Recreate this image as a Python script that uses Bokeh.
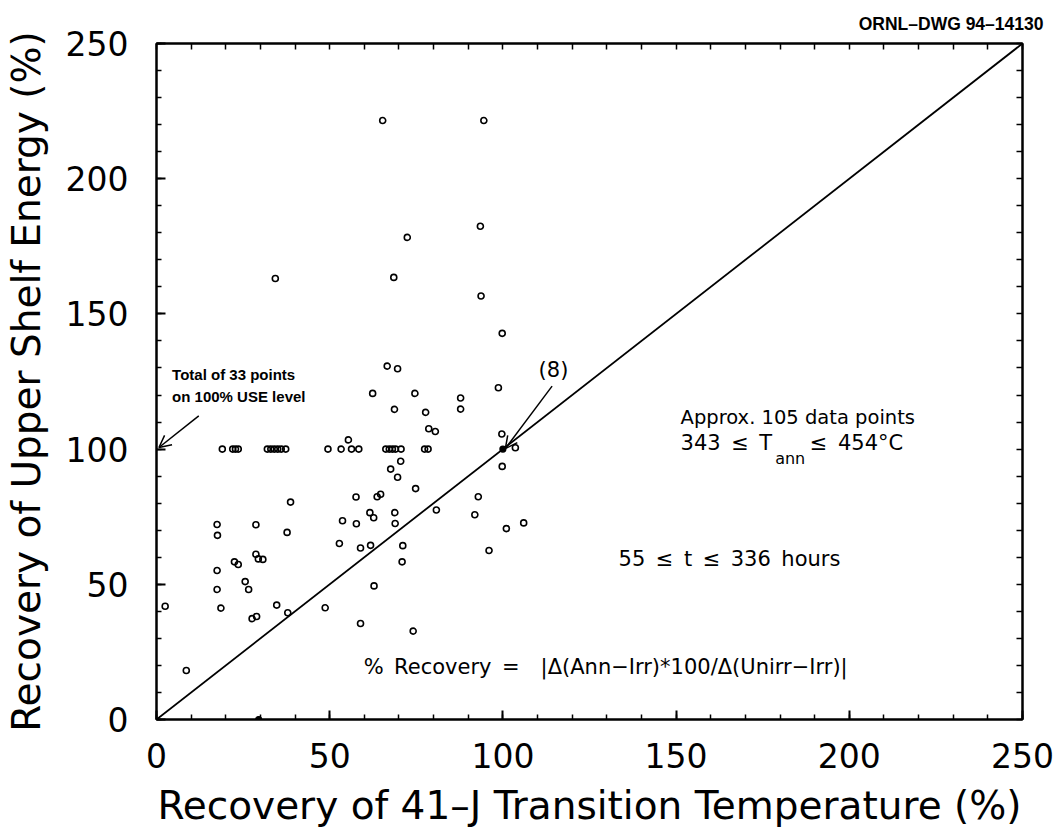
from bokeh.plotting import figure
from bokeh.models import (Label, Arrow, OpenHead, LinearAxis, SingleIntervalTicker,
                          FixedTicker, Range1d)
from bokeh.embed import file_html
from bokeh.resources import INLINE

# ---------------- data ----------------
# points lying on the 100 % USE level
use100_x = [19.0, 22.0, 22.8, 23.6, 32.0, 33.0, 34.0, 35.0, 36.0, 37.3, 49.5, 53.3,
            56.3, 58.4, 66.2, 67.2, 68.1, 69.0, 70.6, 77.4, 78.4, 103.6]
use100_y = [100, 100, 100, 100, 100, 100, 100, 100, 100, 100, 100, 100,
            100, 100, 100, 100, 100, 100, 100, 100, 100, 100.5]

# remaining data points
tt_recovery = [65.3, 94.5, 34.3, 68.5, 72.4, 93.5, 93.7, 99.8, 66.6, 69.6, 62.4, 74.6,
               87.8, 87.8, 98.7, 68.7, 77.7, 78.6, 80.5, 55.4, 99.7,
               99.8, 70.5, 67.6, 69.6, 74.8, 57.6, 63.7, 64.7, 38.7, 92.9, 80.8,
               61.6, 62.7, 68.8, 53.7, 57.7, 68.9, 91.9, 101.0, 106.0, 17.5,
               17.6, 28.7, 37.7, 52.8, 58.9, 61.8, 71.1, 96.0, 28.7, 29.4,
               30.7, 22.5, 23.6, 70.9, 17.5, 25.6, 26.6, 17.5, 62.8, 2.5,
               18.6, 34.7, 37.9, 48.7, 27.6, 28.9, 58.9, 74.1, 8.6]
use_recovery = [221.5, 221.5, 163.1, 163.5, 178.3, 182.4, 156.6, 142.8, 130.7, 129.7, 120.6, 120.6,
                118.9, 114.8, 122.7, 114.7, 113.6, 107.5, 106.5, 103.4, 105.6,
                93.6, 95.5, 92.6, 89.6, 85.4, 82.3, 82.4, 83.3, 80.4, 82.4, 77.5,
                76.5, 74.6, 76.5, 73.5, 72.4, 72.5, 75.7, 70.6, 72.7, 72.1,
                68.1, 72.0, 69.2, 65.1, 63.4, 64.4, 64.3, 62.5, 61.1, 59.4,
                59.2, 58.3, 57.3, 58.3, 55.1, 51.0, 48.1, 48.1, 49.4, 41.9,
                41.2, 42.3, 39.5, 41.3, 37.3, 38.1, 35.5, 32.7, 18.1]

# coincident points (8 at 100/100) and point on the axis
filled_x = [100, 29.5]
filled_y = [100, 0]

# 1:1 line
diag_x = [0, 250]
diag_y = [0, 250]

# tick marks of the top and right frame sides
frame_ticks = list(range(0, 251, 10))

FONT = "DejaVu Sans"
INK = "black"

p = figure(width=1056, height=830,
           x_range=Range1d(0, 250), y_range=Range1d(0, 250),
           output_backend="svg", toolbar_location=None,
           min_border_left=156, min_border_right=34,
           min_border_top=43, min_border_bottom=110)
p.grid.visible = False
p.outline_line_color = INK
p.outline_line_width = 2
p.background_fill_color = "white"
p.border_fill_color = "white"

# drawing number at the top right
p.title.text = "ORNL\u2013DWG 94\u201314130"
p.title.align = "right"
p.title.text_font = "Liberation Sans"
p.title.text_font_style = "bold"
p.title.text_font_size = "17.5px"
p.title.text_color = INK
p.title.offset = -21
p.title.standoff = 19


def base_axis(ax):
    ax.axis_line_width = 2
    ax.axis_line_color = INK
    ax.major_tick_out = 0
    ax.minor_tick_out = 0
    ax.major_tick_line_width = 2
    ax.minor_tick_line_width = 1.5
    ax.major_tick_line_color = INK
    ax.minor_tick_line_color = INK


xa = p.xaxis[0]
ya = p.yaxis[0]
for ax in (xa, ya):
    base_axis(ax)
    ax.ticker = SingleIntervalTicker(interval=50, num_minor_ticks=5)
    ax.major_tick_in = 9
    ax.minor_tick_in = 5
    ax.major_label_text_font = FONT
    ax.major_label_text_font_size = "33px"
    ax.major_label_text_color = INK
    ax.axis_label_text_font = FONT
    ax.axis_label_text_font_size = "39px"
    ax.axis_label_text_font_style = "normal"
    ax.axis_label_text_color = INK

xa.axis_label = "Recovery of 41\u2013J Transition Temperature (%)"
ya.axis_label = "Recovery of Upper Shelf Energy (%)"
xa.major_label_standoff = 23
xa.axis_label_standoff = 12
ya.major_label_standoff = 28
ya.axis_label_standoff = 14

for side in ("above", "right"):
    ax = LinearAxis(ticker=FixedTicker(ticks=[], minor_ticks=frame_ticks))
    base_axis(ax)
    ax.minor_tick_in = 6
    p.add_layout(ax, side)

# diagonal
p.line(diag_x, diag_y, line_color=INK, line_width=1.8)

# points
p.scatter(use100_x, use100_y, marker="circle", size=6, fill_color=None,
          line_color=INK, line_width=1.6)
p.scatter(tt_recovery, use_recovery, marker="circle", size=6, fill_color=None,
          line_color=INK, line_width=1.6)
p.scatter(filled_x, filled_y, marker="circle", size=6, fill_color=INK,
          line_color=INK, line_width=1.2)

# annotations
p.add_layout(Label(x=4.5, y=127.6, text="Total of 33 points", text_font="Liberation Sans",
                   text_font_style="bold", text_font_size="15px", text_baseline="middle",
                   text_color=INK))
p.add_layout(Label(x=4.5, y=119.6, text="on 100% USE level", text_font="Liberation Sans",
                   text_font_style="bold", text_font_size="15px", text_baseline="middle",
                   text_color=INK))
p.add_layout(Arrow(end=OpenHead(size=12, line_width=1.5, line_color=INK),
                   x_start=12.2, y_start=112.3, x_end=0.7, y_end=100.6,
                   line_width=1.5, line_color=INK))

p.add_layout(Label(x=114.6, y=129.4, text="(8)", text_font=FONT, text_font_size="21px",
                   text_align="center", text_baseline="middle", text_color=INK))
p.add_layout(Arrow(end=OpenHead(size=12, line_width=1.5, line_color=INK),
                   x_start=114.2, y_start=123.3, x_end=100.7, y_end=100.2,
                   line_width=1.5, line_color=INK))

SP = "\u2002"
p.add_layout(Label(x=151.3, y=111.7, text="Approx. 105 data points", text_font=FONT,
                   text_font_size="19.5px", text_baseline="middle", text_color=INK))
p.add_layout(Label(x=151.3, y=102.1, text="343" + SP + "\u2264" + SP + "T", text_font=FONT,
                   text_font_size="21px", text_baseline="middle", text_color=INK))
p.add_layout(Label(x=178.6, y=96.4, text="ann", text_font=FONT,
                   text_font_size="16px", text_baseline="middle", text_color=INK))
p.add_layout(Label(x=188.6, y=102.1, text="\u2264" + SP + "454\u00b0C", text_font=FONT,
                   text_font_size="21px", text_baseline="middle", text_color=INK))
p.add_layout(Label(x=133.4, y=59.4,
                   text=SP.join(["55", "\u2264", "t", "\u2264", "336", "hours"]),
                   text_font=FONT, text_font_size="21px", text_baseline="middle",
                   text_color=INK))
p.add_layout(Label(x=59.8, y=19.5,
                   text="%" + SP + "Recovery" + SP + "=" + "\u2003" +
                        "|\u0394(Ann\u2212Irr)*100/\u0394(Unirr\u2212Irr)|",
                   text_font=FONT, text_font_size="21px", text_baseline="middle",
                   text_color=INK))

open("out.html", "w").write(file_html(p, INLINE))
